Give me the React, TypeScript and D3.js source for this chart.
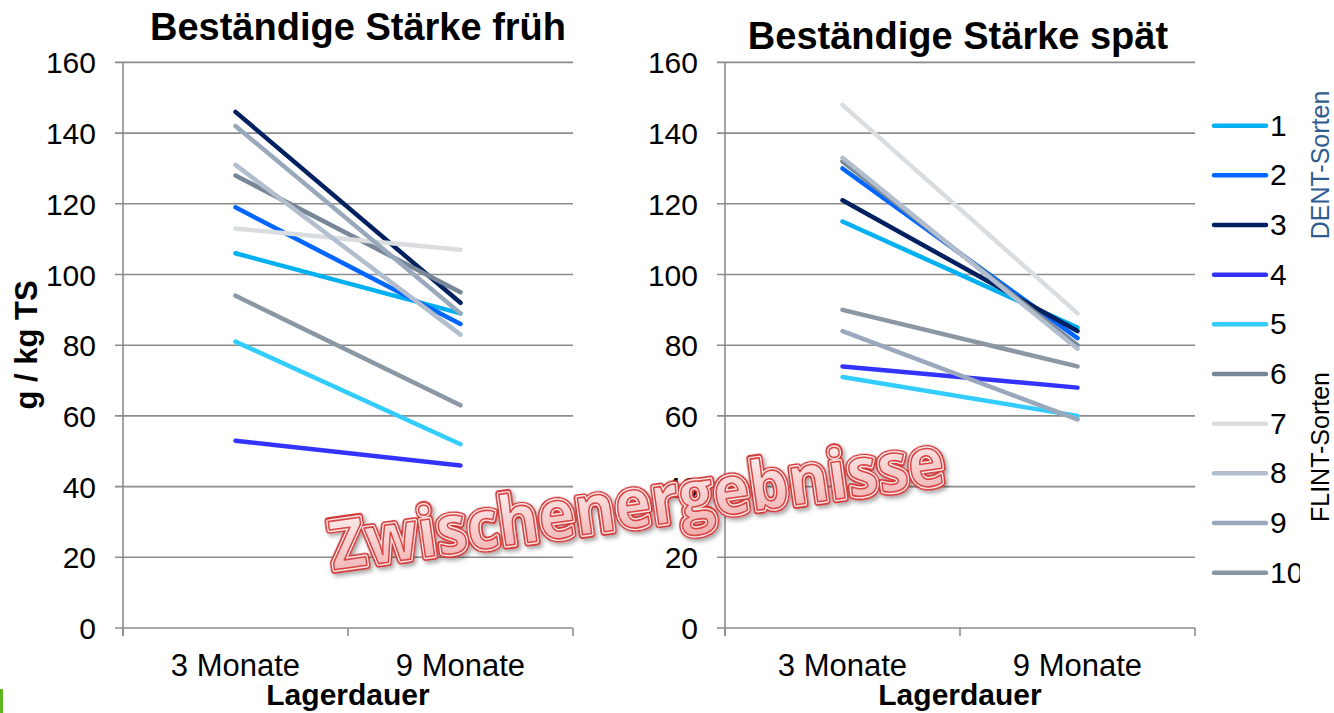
import React from "react";
import * as d3 from "d3";

const categories = ["3 Monate", "9 Monate"];
const sorten = ["1", "2", "3", "4", "5", "6", "7", "8", "9", "10"];
const colors = ["#00B0F0", "#0066FF", "#002060", "#3333FF", "#33CCFF", "#778797", "#DADDE0", "#B2BECD", "#9AA8BB", "#8C97A4"];
const fruehValues = [
  [106, 89], [119, 86], [146, 92], [53, 46], [81, 52],
  [128, 95], [113, 107], [131, 83], [142, 89], [94, 63],
];
const spaetValues = [
  [115, 85], [130, 82], [121, 84], [74, 68], [71, 60],
  [132, 80], [148, 89], [133, 79], [84, 59], [90, 74],
];
const yTicks = [0, 20, 40, 60, 80, 100, 120, 140, 160];
const titles = ["Beständige Stärke früh", "Beständige Stärke spät"];

const FONT = "'Liberation Sans', Arial, sans-serif";
const GRID = "#8C8C8C";

function Panel({ x0, x1, title, titleX, titleY, values }: { x0: number; x1: number; title: string; titleX: number; titleY: number; values: number[][] }) {
  const y = d3.scaleLinear().domain([0, 160]).range([628, 62.4]);
  const x = d3.scalePoint<string>().domain(categories).range([x0, x1]).padding(0.5);
  const band = d3.scaleBand<string>().domain(categories).range([x0, x1]);
  const line = d3.line<number>().x((_, i) => x(categories[i]) as number).y((v) => y(v));
  const boundaries = [x0, ...categories.map((c) => (band(c) as number) + band.bandwidth())];
  return (
    <g>
      <text x={titleX} y={titleY} textAnchor="middle" fontFamily={FONT} fontWeight="bold" fontSize={38}>{title}</text>
      {yTicks.map((t) => (
        <g key={t}>
          <line x1={x0 - 8} x2={x1} y1={y(t)} y2={y(t)} stroke={GRID} strokeWidth={1.6} />
          <text x={x0 - 27} y={y(t) + 11} textAnchor="end" fontFamily={FONT} fontSize={30}>{t}</text>
        </g>
      ))}
      <line x1={x0} x2={x0} y1={y(160)} y2={y(0) + 8} stroke={GRID} strokeWidth={1.6} />
      {boundaries.map((b, i) => (
        <line key={i} x1={b} x2={b} y1={y(0)} y2={y(0) + 8} stroke={GRID} strokeWidth={1.6} />
      ))}
      {categories.map((c) => (
        <text key={c} x={x(c) as number} y={676} textAnchor="middle" fontFamily={FONT} fontSize={31}>{c}</text>
      ))}
      <text x={(x0 + x1) / 2} y={705} textAnchor="middle" fontFamily={FONT} fontWeight="bold" fontSize={30}>Lagerdauer</text>
      {values.map((v, i) => (
        <path key={i} d={line(v) as string} fill="none" stroke={colors[i]} strokeWidth={4.5} strokeLinecap="round" />
      ))}
    </g>
  );
}

export default function App() {
  const legendY = d3.scalePoint<string>().domain(sorten).range([125.7, 572.7]);
  return (
    <svg width={1334} height={713} style={{ position: "absolute", left: 0, top: 0, background: "#fff" }}>
      <defs>
        <clipPath id="legclip"><rect x={1190} y={80} width={110} height={560} /></clipPath>
        <linearGradient id="wmfill" x1="0" y1="0" x2="0" y2="1">
          <stop offset="0" stopColor="#ffffff" />
          <stop offset="1" stopColor="#f0a8a8" />
        </linearGradient>
        <filter id="wmshadow" x="-10%" y="-30%" width="120%" height="160%">
          <feDropShadow dx="2" dy="3" stdDeviation="2" floodColor="#000" floodOpacity="0.35" />
        </filter>
      </defs>
      <rect x={0} y={0} width={1334} height={713} fill="#fff" />
      <Panel x0={123} x1={573} title={titles[0]} titleX={358} titleY={40} values={fruehValues} />
      <Panel x0={725} x1={1195} title={titles[1]} titleX={958} titleY={49} values={spaetValues} />
      <text transform="translate(37,345) rotate(-90)" textAnchor="middle" fontFamily={FONT} fontWeight="bold" fontSize={31}>g / kg TS</text>
      <g clipPath="url(#legclip)">
        {sorten.map((s, i) => (
          <g key={s}>
            <line x1={1214} x2={1266} y1={legendY(s) as number} y2={legendY(s) as number} stroke={colors[i]} strokeWidth={4.5} strokeLinecap="round" />
            <text x={1270} y={(legendY(s) as number) + 10} fontFamily={FONT} fontSize={30}>{s}</text>
          </g>
        ))}
      </g>
      <text transform="translate(1329,165) rotate(-90)" textAnchor="middle" fontFamily={FONT} fontSize={25} fill="#2F5C8F">DENT-Sorten</text>
      <text transform="translate(1329,447) rotate(-90)" textAnchor="middle" fontFamily={FONT} fontSize={25} fill="#000">FLINT-Sorten</text>
      <g transform="translate(333,570) rotate(-8)">
        <text x={0} y={0} fontFamily="'Open Sans', sans-serif" fontWeight="bold" fontSize={68} textLength={620} lengthAdjust="spacingAndGlyphs" fill="#d13a3a" stroke="#d13a3a" strokeWidth={8} strokeLinejoin="round" filter="url(#wmshadow)">Zwischenergebnisse</text>
        <text x={0} y={0} fontFamily="'Open Sans', sans-serif" fontWeight="bold" fontSize={68} textLength={620} lengthAdjust="spacingAndGlyphs" fill="#fbe6e6" stroke="#fbe6e6" strokeWidth={4.5} strokeLinejoin="round">Zwischenergebnisse</text>
        <text x={0} y={0} fontFamily="'Open Sans', sans-serif" fontWeight="bold" fontSize={68} textLength={620} lengthAdjust="spacingAndGlyphs" fill="url(#wmfill)" stroke="#d84545" strokeWidth={1.6} strokeLinejoin="round">Zwischenergebnisse</text>
      </g>
      <rect x={0} y={689} width={3} height={24} fill="#5DB520" />
    </svg>
  );
}
